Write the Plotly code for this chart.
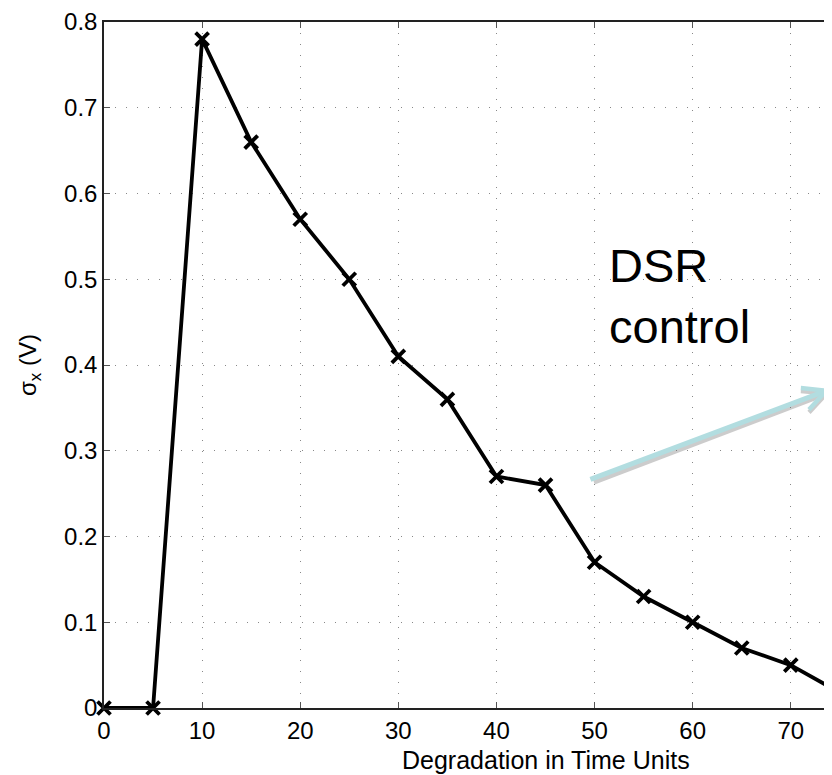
import plotly.graph_objects as go

# Data
x_vals = [0, 5, 10, 15, 20, 25, 30, 35, 40, 45, 50, 55, 60, 65, 70, 75]
sigma_vals = [0.0, 0.0, 0.78, 0.66, 0.57, 0.50, 0.41, 0.36, 0.27, 0.26, 0.17, 0.13, 0.10, 0.07, 0.05, 0.018]
x_ticks = [0, 10, 20, 30, 40, 50, 60, 70]
y_ticks = [0, 0.1, 0.2, 0.3, 0.4, 0.5, 0.6, 0.7, 0.8]
y_tick_text = ["0", "0.1", "0.2", "0.3", "0.4", "0.5", "0.6", "0.7", "0.8"]

# page has an 8px body margin, so the figure is 8px smaller than the window
W, H = 824, 767
ML, MR, MT, MB = 96, 0, 8, 67
FONT = "Liberation Sans, Arial, sans-serif"

fig = go.Figure()
fig.add_trace(go.Scatter(
    x=x_vals, y=sigma_vals, mode="lines+markers",
    line=dict(color="black", width=3.8),
    marker=dict(symbol="x-thin", size=13, color="black",
                line=dict(color="black", width=3.8)),
    cliponaxis=False, showlegend=False,
))

axis_common = dict(
    showline=True, linecolor="#222", linewidth=1.5,
    ticks="inside", ticklen=6, tickcolor="#555", tickwidth=1,
    showgrid=True, gridcolor="#888", gridwidth=1, griddash="1px,10px",
    zeroline=False, tickfont=dict(family=FONT, size=24, color="black"),
    ticklabeloverflow="allow",
)

fig.update_xaxes(range=[0, 74.2], tickvals=x_ticks, mirror="ticks", **axis_common)
fig.update_yaxes(range=[0, 0.8], tickvals=y_ticks, ticktext=y_tick_text, mirror=False,
                 ticklabelstandoff=0, **axis_common)

fig.update_layout(
    width=W, height=H,
    margin=dict(l=ML, r=MR, t=MT, b=MB),
    plot_bgcolor="white", paper_bgcolor="white",
    font=dict(family=FONT, color="black"),
    yaxis_title=dict(text="σ<sub>x</sub> (V)", font=dict(size=24, family=FONT), standoff=21),
)

# X-axis title (centred under the original, uncropped axis)
fig.add_annotation(text="Degradation in Time Units", xref="x", yref="paper",
                   x=45.1, y=0, yshift=-36, xanchor="center", yanchor="top",
                   showarrow=False, font=dict(size=25, family=FONT))

# Shadow of arrow
fig.add_annotation(x=1.006, y=0.461, xref="paper", yref="paper", text="",
                   showarrow=True, ax=-244, ay=91, arrowhead=5, arrowsize=0.9,
                   arrowwidth=5, arrowcolor="rgba(110,110,110,0.35)")
# Arrow
fig.add_annotation(x=1.004, y=0.465, xref="paper", yref="paper", text="",
                   showarrow=True, ax=-246, ay=91, arrowhead=5, arrowsize=0.9,
                   arrowwidth=5, arrowcolor="#b2dde0")

# DSR control label
fig.add_annotation(text="DSR<br>control", xref="paper", yref="paper",
                   x=(607 - 104) / 728, y=(708 - 233) / 692,
                   xanchor="left", yanchor="top", align="left", showarrow=False,
                   font=dict(size=47, family=FONT, color="black"))

fig.write_html("out.html")
